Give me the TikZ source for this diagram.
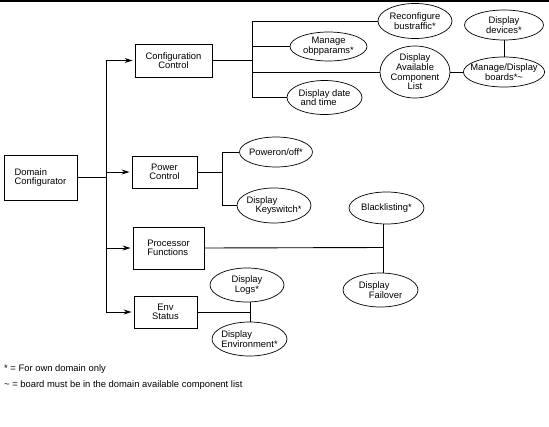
\documentclass[tikz,border=0pt]{standalone}
\usepackage{fontspec}
\setmainfont{Liberation Sans}
\usetikzlibrary{arrows.meta,shapes.geometric}

\begin{document}
\begin{tikzpicture}[x=1pt,y=-1pt,
  font=\fontsize{9.4}{9.6}\selectfont,
  blk/.style={draw,line width=0.9pt,inner sep=0pt,align=center},
  ovl/.style={draw,ellipse,line width=0.7pt,inner xsep=-5pt,inner ysep=0pt,align=center},
  wire/.style={line width=0.9pt},
  lnk/.style={wire,-{Stealth[length=8pt,width=5pt]},shorten >=2pt}]
  \useasboundingbox (0,0) rectangle (549,426);
  \draw[line width=1.5pt] (0,0.75) -- (549,0.75);

  % left column of boxes
  \node[blk,minimum width=73pt,minimum height=45pt,align=left] (dc) at (40.5,177.5) {Domain\\Configurator};
  \node[blk,minimum width=77pt,minimum height=33pt] (cc) at (173.5,60.5) {Configuration\\Control};
  \node[blk,minimum width=65pt,minimum height=32pt] (pc) at (164.5,172) {Power\\Control};
  \node[blk,minimum width=71pt,minimum height=42pt,align=left] (pf) at (168.5,248) {Processor\\Functions};
  \node[blk,minimum width=63pt,minimum height=32pt] (es) at (165.5,312) {Env\\Status};

  % configuration control
  \node[ovl,minimum width=74pt,minimum height=35pt] (rc) at (415,21) {Reconfigure\\bustraffic*};
  \node[ovl,minimum width=77pt,minimum height=29pt] (mo) at (328.5,46.5) {Manage\\obpparams*};
  \node[ovl,minimum width=70pt,minimum height=52pt] (dac) at (415,72) {Display\\Available\\Component\\List};
  \node[ovl,minimum width=75pt,minimum height=34pt,align=left] (dd) at (324.5,97.5) {Display date\\\hspace*{2pt}and time};
  \node[ovl,minimum width=80pt,minimum height=30pt] (mdb) at (504,72) {Manage/Display\\boards*\textasciitilde};
  \node[ovl,minimum width=79pt,minimum height=30pt] (dv) at (504,25) {Display\\devices*};

  % power control
  \node[ovl,minimum width=73pt,minimum height=30pt] (pw) at (276,152) {Poweron/off*};
  \node[ovl,minimum width=74pt,minimum height=35pt,align=left] (ks) at (274,205.5) {Display\\\hspace*{9pt}Keyswitch*};

  % processor functions
  \node[ovl,minimum width=75pt,minimum height=32pt] (bl) at (386.5,208) {Blacklisting*};
  \node[ovl,minimum width=75pt,minimum height=34pt,align=left] (fo) at (380.5,290) {Display\\\hspace*{10pt}Failover};

  % env status
  \node[ovl,minimum width=74pt,minimum height=34pt] (lg) at (247,285) {Display\\Logs*};
  \node[ovl,minimum width=75pt,minimum height=34pt,align=left] (en) at (249.5,339) {Display\\Environment*};

  % notes
  \node[anchor=west,inner sep=0pt] (note1) at (4,369) {* = For own domain only};
  \node[anchor=west,inner sep=0pt] (note2) at (4,385) {\textasciitilde{} = board must be in the domain available component list};

  % bus positions
  \coordinate (trk) at (106,0);
  \coordinate (cbus) at (252,0);
  \coordinate (pbus) at (222,0);
  \coordinate (fbus) at (383,247.5);
  \coordinate (ebus) at (250,0);

  % trunk
  \draw[wire] (dc.east) -- (dc.east -| trk);
  \draw[wire] (trk |- cc.west) -- (trk |- es.west);
  \foreach \b in {cc,pc,pf,es}
    \draw[lnk] (trk |- \b.west) -- (\b.west);

  % configuration bus
  \draw[wire] (cc.east) -- (cc.east -| cbus);
  \draw[wire] (cbus |- rc.west) -- (cbus |- dd.west);
  \foreach \e in {rc,mo,dac,dd}
    \draw[wire] (cbus |- \e.west) -- (\e.west);
  \draw[wire] (dac.east) -- (mdb.west);
  \draw[wire] (dv.south) -- (mdb.north);

  % power bus
  \draw[wire] (pc.east) -- (pc.east -| pbus);
  \draw[wire] (pbus |- pw.west) -- (pbus |- ks.west);
  \draw[wire] (pbus |- pw.west) -- (pw.west);
  \draw[wire] (pbus |- ks.west) -- (ks.west);

  % processor line
  \draw[wire] (pf.east) -- (fbus);
  \draw[wire] (fbus |- bl.south) -- (fbus |- fo.north);

  % env line
  \draw[wire] (es.east) -- (es.east -| ebus);
  \draw[wire] (ebus |- lg.south) -- (ebus |- en.north);
\end{tikzpicture}
\end{document}
